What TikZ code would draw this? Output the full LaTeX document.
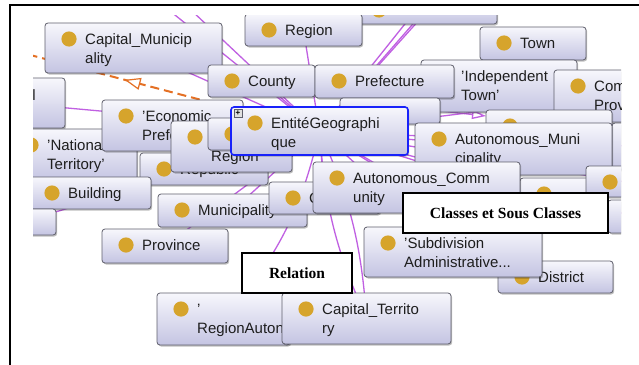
\documentclass[tikz,border=0pt]{standalone}
\usepackage{fontspec}
\setmainfont{Liberation Sans}
\newfontfamily\capfont{Liberation Serif}
\usetikzlibrary{arrows.meta,decorations.markings,fit,shadows,backgrounds}

\definecolor{boxtop}{RGB}{247,247,252}
\definecolor{boxbot}{RGB}{196,196,226}
\definecolor{boxline}{RGB}{95,95,108}
\definecolor{dotcol}{RGB}{214,164,44}
\definecolor{isacol}{RGB}{192,96,226}
\definecolor{relcol}{RGB}{228,112,36}
\definecolor{selblue}{RGB}{24,34,250}
\definecolor{txt}{RGB}{30,30,30}

\pgfdeclarelayer{paper}
\pgfsetlayers{paper,background,main}

\tikzset{
  clsbox/.style={rounded corners=3pt, draw=boxline, line width=0.8pt,
    top color=boxtop, bottom color=boxbot, inner sep=0pt,
    drop shadow={shadow xshift=1.2pt, shadow yshift=-1.5pt, fill=black, opacity=0.25}},
  clstext/.style={anchor=base west, inner sep=0pt, text=txt,
    font=\fontsize{15}{18}\selectfont},
  isa/.style={draw=isacol, line width=1.3pt},
  relation/.style={draw=relcol, line width=2pt, dash pattern=on 9pt off 5pt},
  caption/.style={draw=black, line width=1.6pt, fill=white, inner sep=0pt,
    font=\capfont\bfseries\fontsize{15.5}{18}\selectfont}
}

% class box: [options]{name}{x1}{y1}{x2}{y2}{line 1}{line 2}
\newcommand\klass[8][]{%
  \node[clsbox,#1,fit={(#3,#4) (#5,#6)}] (#2) {};
  \fill[dotcol] ({#3+24},{#4+16}) circle[radius=7.6pt];
  \node[clstext] at ({#3+40},{#4+21.5}) {#7};
  \node[clstext] at ({#3+40},{#4+40.5}) {#8};
}

\begin{document}
\begin{tikzpicture}[x=1pt,y=-1pt]
\useasboundingbox (0,0) rectangle (639,364);
\begin{pgfonlayer}{paper}
\fill[white] (0,0) rectangle (639,364);
\end{pgfonlayer}

% outer frame
\draw[line width=2pt] (10,370) -- (10,5) -- (645,5);

\begin{scope}
\clip (33,15) rectangle (621,364);
% back row
\klass{box5}{355}{-6}{497}{24}{}{}
\klass{region}{245}{14}{362}{46}{Region}{}
\klass{cm}{45}{23}{222}{73}{Capital\_Municip}{ality}
\klass{leftbox}{-40}{78}{65}{128}{}{}
\node[clstext, anchor=base east] (leftl) at (36,100) {l};
\klass{town}{480}{27}{586}{60}{Town}{}
\klass{indep}{421}{60}{577}{112}{'Independent}{Town'}
\klass{county}{208}{65}{315}{97}{County}{}
\klass{pref}{315}{65}{454}{98}{Prefecture}{}
\klass{comprov}{554}{70}{660}{122}{Com}{Prov}
\klass{box10}{486}{110}{612}{160}{}{}
\klass{behind}{340}{98}{440}{124}{}{}
\klass{boxr}{612}{123}{660}{170}{}{}
\klass{am}{415}{123}{612}{175}{Autonomous\_Muni}{cipality}
\klass{national}{7}{129}{137}{181}{'National}{Territory'}
\klass{econ}{102}{100}{243}{151}{'Economic}{Prefecture}
\klass{republic}{140}{153}{268}{185}{Republic}{}
\klass{regbox}{171}{121}{292}{172}{}{Region}
\klass{bxf}{208}{118}{300}{150}{}{}
\klass[draw=selblue, line width=1.6pt]{ent}{231}{107}{408}{155}{EntitéGeographi}{que}
\node[draw=boxline, fill=black!12, line width=0.5pt, minimum size=8pt, inner sep=0pt,
  font=\bfseries\fontsize{8}{8}\selectfont] (plus) at (238,113) {+};
\klass{building}{28}{177}{151}{209}{Building}{}
\klass{boxl}{-10}{209}{56}{235}{}{}
\klass{muni}{158}{194}{307}{227}{Municipality}{}
\klass{cbox}{269}{182}{380}{214}{C}{}
\klass{box23}{520}{178}{592}{230}{}{}
\klass{box24}{586}{166}{660}{197}{}{}
\klass{box25}{608}{200}{660}{233}{}{}
\klass{ac}{313}{162}{520}{213}{Autonomous\_Comm}{unity}
\klass{province}{102}{229}{228}{263}{Province}{}
\klass{district}{498}{261}{613}{293}{District}{}
\klass{subdiv}{364}{227}{542}{277}{'Subdivision}{Administrative...}
\klass{ra}{157}{293}{290}{345}{'}{RegionAutonome'}
\klass{ct}{282}{293}{451}{344}{Capital\_Territo}{ry}
\end{scope}

% captions
\node[caption, fit={(242,253) (352,293)}] (relbox) {};
\node[font=\capfont\bfseries\fontsize{15.5}{18}\selectfont] (rellabel) at (relbox.center) {Relation};
\node[caption, fit={(403,193) (608,233)}] (clsbox) {};
\node[font=\capfont\bfseries\fontsize{15.5}{18}\selectfont] (clslabel) at (clsbox.center) {Classes et Sous Classes};

% connectors, behind the boxes
\begin{pgfonlayer}{background}
\begin{scope}
\clip (33,15) rectangle (621,364);
\coordinate (upA) at (175,-5);
\coordinate (upB) at (150,-5);
\coordinate (upC) at (440,-20);
\coordinate (upD) at (455,-20);
\coordinate (westend) at (15,51);
\coordinate (boxtenin) at (486,116);
\foreach \t in {cm,region,county,pref,town,indep,comprov,am,econ,national,building,
  muni,province,republic,regbox,subdiv,district,ac,cbox,leftbox,box5,box23,box24,
  box25,bxf,behind,boxr,boxl,upA,upB,upC,upD}
  \draw[isa] (ent.center) -- (\t.center);
\draw[isa] (ent.center) to[bend right=10] (ct.center);
\draw[isa] (ent.center) to[bend left=10] (ct.center);
\draw[isa] (ent.center) to[bend left=14] (ra.center);
\draw[isa, -{Triangle[open, length=14pt, width=9pt]}] (behind.east) -- (boxtenin);
\draw[relation, postaction={decorate}, decoration={markings,
  mark=at position 0.36 with {\arrowreversed[solid, line width=1.2pt]{Triangle[length=16pt, width=12pt, fill=white]}}}]
  (westend) -- (ent.center);
\end{scope}
\end{pgfonlayer}
\end{tikzpicture}
\end{document}
